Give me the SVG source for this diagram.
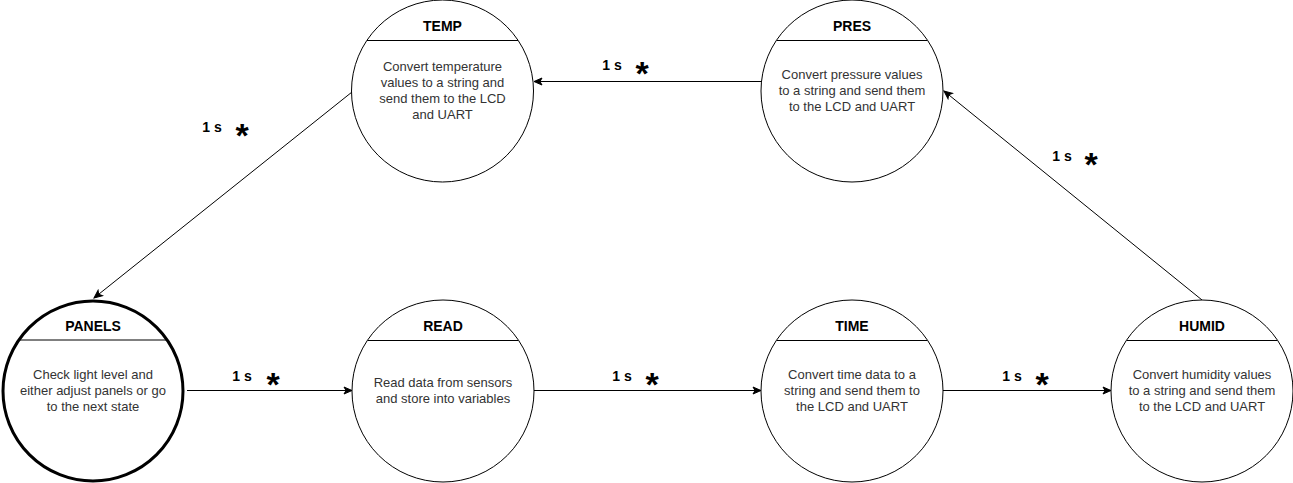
<svg xmlns="http://www.w3.org/2000/svg" width="1293" height="483" viewBox="0 0 1293 483">
<style>
.st{fill:#fff;stroke:#000;stroke-width:1}
.thick{stroke-width:3}
.title{font-family:"Liberation Sans",Arial,sans-serif;font-size:14px;font-weight:bold;fill:#000;text-anchor:middle}
.body{font-family:"Liberation Sans",Arial,sans-serif;font-size:13px;fill:#333;text-anchor:middle}
.lbl{font-family:"Liberation Sans",Arial,sans-serif;font-size:14px;font-weight:bold;fill:#000;text-anchor:middle}
.ast{font-family:"Liberation Sans",Arial,sans-serif;font-size:34px;font-weight:bold;fill:#000;text-anchor:middle}
.edge{fill:none;stroke:#000;stroke-width:1}
</style>
<defs>
<marker id="arr" markerWidth="10" markerHeight="10" refX="9" refY="5" orient="auto" markerUnits="userSpaceOnUse">
<path d="M1,1.5 L9,5 L1,8.5 L3,5 Z" fill="#000" stroke="#000" stroke-width="1"/>
</marker>
</defs>
<rect width="1293" height="483" fill="#fff"/>
<g id="connectors">
<line class="edge" x1="187" y1="390.5" x2="352" y2="390.5" marker-end="url(#arr)"/>
<line class="edge" x1="534" y1="390.5" x2="761" y2="390.5" marker-end="url(#arr)"/>
<line class="edge" x1="943" y1="390.5" x2="1111" y2="390.5" marker-end="url(#arr)"/>
<line class="edge" x1="1202" y1="300" x2="944" y2="91" marker-end="url(#arr)"/>
<line class="edge" x1="761" y1="81.5" x2="534" y2="81.5" marker-end="url(#arr)"/>
<line class="edge" x1="352" y1="92" x2="94" y2="298" marker-end="url(#arr)"/>
<text class="lbl" x="242" y="381">1 s</text><text class="ast" x="273" y="396">*</text>
<text class="lbl" x="622" y="381">1 s</text><text class="ast" x="652" y="396">*</text>
<text class="lbl" x="1012" y="381">1 s</text><text class="ast" x="1042" y="396">*</text>
<text class="lbl" x="612" y="70">1 s</text><text class="ast" x="642" y="85">*</text>
<text class="lbl" x="212" y="132">1 s</text><text class="ast" x="242" y="147">*</text>
<text class="lbl" x="1062" y="161">1 s</text><text class="ast" x="1091" y="176">*</text>
</g>
<g id="TEMP">
<circle class="st" cx="442.5" cy="91" r="91"/>
<line class="edge" x1="367" y1="40.5" x2="518" y2="40.5"/>
<text class="title" x="442.5" y="31">TEMP</text>
<text class="body" x="442.5" y="71">Convert temperature</text>
<text class="body" x="442.5" y="87">values to a string and</text>
<text class="body" x="442.5" y="103">send them to the LCD</text>
<text class="body" x="442.5" y="119">and UART</text>
</g>
<g id="PRES">
<circle class="st" cx="852" cy="91" r="91"/>
<line class="edge" x1="776.5" y1="40.5" x2="927.5" y2="40.5"/>
<text class="title" x="852" y="31">PRES</text>
<text class="body" x="852" y="79">Convert pressure values</text>
<text class="body" x="852" y="95">to a string and send them</text>
<text class="body" x="852" y="111">to the LCD and UART</text>
</g>
<g id="PANELS">
<circle class="st thick" cx="93" cy="391" r="90"/>
<line class="edge thick" x1="18" y1="340" x2="168" y2="340"/>
<text class="title" x="93" y="331">PANELS</text>
<text class="body" x="93" y="379">Check light level and</text>
<text class="body" x="93" y="395">either adjust panels or go</text>
<text class="body" x="93" y="411">to the next state</text>
</g>
<g id="READ">
<circle class="st" cx="443" cy="391" r="91"/>
<line class="edge" x1="367.5" y1="340.5" x2="518.5" y2="340.5"/>
<text class="title" x="443" y="331">READ</text>
<text class="body" x="443" y="387">Read data from sensors</text>
<text class="body" x="443" y="403">and store into variables</text>
</g>
<g id="TIME">
<circle class="st" cx="852" cy="391" r="91"/>
<line class="edge" x1="776.5" y1="340.5" x2="927.5" y2="340.5"/>
<text class="title" x="852" y="331">TIME</text>
<text class="body" x="852" y="379">Convert time data to a</text>
<text class="body" x="852" y="395">string and send them to</text>
<text class="body" x="852" y="411">the LCD and UART</text>
</g>
<g id="HUMID">
<circle class="st" cx="1202" cy="391" r="91"/>
<line class="edge" x1="1126.5" y1="340.5" x2="1277.5" y2="340.5"/>
<text class="title" x="1202" y="331">HUMID</text>
<text class="body" x="1202" y="379">Convert humidity values</text>
<text class="body" x="1202" y="395">to a string and send them</text>
<text class="body" x="1202" y="411">to the LCD and UART</text>
</g>
</svg>
